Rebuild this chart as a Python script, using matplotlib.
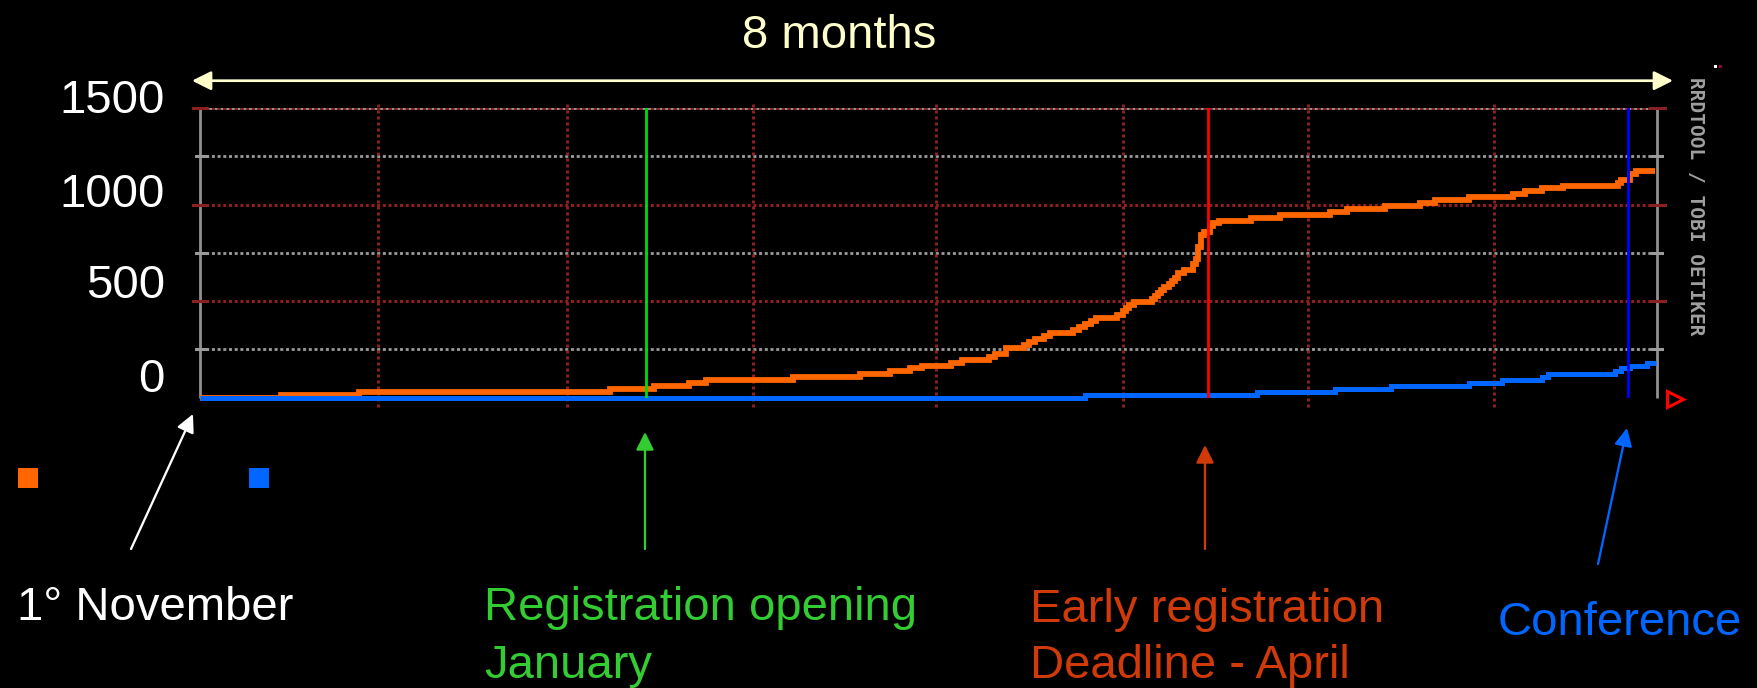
import matplotlib
matplotlib.use("Agg")
import matplotlib.pyplot as plt
from matplotlib.patches import FancyArrowPatch, ArrowStyle, Rectangle
from matplotlib.lines import Line2D

plt.rcParams['font.family'] = ['Liberation Sans', 'DejaVu Sans']
plt.rcParams['lines.scale_dashes'] = False

# ---------------- data (x = days since 1 November) ----------------
orange_days = [0, 13.3, 26.2, 67.5, 74.8, 80.6, 83.4, 97.7, 108.7, 113.7, 117.0, 118.9,
               123.7, 125.5, 130.0, 131.0, 132.8, 135.7, 136.6, 137.6, 139.0, 140.0,
               143.8, 144.8, 145.8, 146.8, 147.6, 151.1, 152.1, 152.6, 153.0, 153.9,
               156.8, 157.3, 157.8, 158.3, 158.8, 159.6, 160.1, 160.6, 161.1, 162.1,
               163.6, 164.1, 164.4, 164.9, 165.4, 166.4, 166.9, 167.9, 173.1, 177.9,
               186.2, 189.0, 195.2, 201.0, 203.5, 209.1, 216.3, 218.3, 221.1, 224.5,
               233.6, 234.1, 235.6, 236.6, 239.7]
orange_vals = [0, 12, 27, 43, 59, 74, 90, 105, 121, 137, 152, 162,
               178, 194, 209, 225, 256, 271, 287, 302, 318, 334,
               349, 365, 380, 396, 412, 427, 448, 463, 479, 495,
               510, 526, 541, 557, 572, 588, 604, 619, 645, 661,
               692, 718, 780, 842, 858, 889, 904, 915, 931, 946,
               962, 977, 993, 1008, 1024, 1040, 1055, 1071, 1086, 1097,
               1112, 1128, 1159, 1174, 1174]

blue_days = [0, 145.8, 174.1, 187.0, 196.2, 209.1, 214.5, 221.1, 222.1, 233.1,
             234.1, 235.6, 238.4, 239.9]
blue_vals = [0, 12, 27, 43, 59, 74, 90, 105, 121, 137, 152, 162, 178, 178]

x_range = [0, 240]
y_range = [0, 1500]
major_values = [500, 1000, 1500]
minor_values = [250, 750, 1250, 1500]
month_grid_days = [29.3, 60.5, 91.1, 121.3, 152.1, 182.5, 213.2]

event_days = [73.5, 166.1, 235.3]
event_colors = ['#00DD00', '#FF0000', '#0000FF']

ytick_labels = ['1500', '1000', '500', '0']

# ---------------- figure ----------------
W, H = 1758, 688
fig = plt.figure(figsize=(W / 100, H / 100), dpi=100, facecolor='black')


def fx(px):
    return px / W


def fy(py):
    return 1 - py / H


ax_l, ax_r, ax_t, ax_b = 200, 1657, 108, 397.5
ax = fig.add_axes([fx(ax_l), fy(ax_b), (ax_r - ax_l) / W, (ax_b - ax_t) / H])
ax.set_facecolor('black')
ax.set_xlim(*x_range)
ax.set_ylim(*y_range)
for s in ax.spines.values():
    s.set_visible(False)
ax.set_xticks([])
ax.set_yticks([])

px2pt = 0.72
grid_red = '#8C2020'
grid_gray = '#9A9A9A'
dots = (0, (3 * px2pt, 2.7 * px2pt))

# horizontal grid
for v in minor_values:
    ax.axhline(v, color=grid_gray, lw=2.8 * px2pt,
               linestyle=(2.8 * px2pt if v == 1500 else 0, (3 * px2pt, 2.7 * px2pt)), zorder=1)
for v in major_values:
    ax.axhline(v, color=grid_red, lw=3.0 * px2pt, linestyle=dots, zorder=1.1)

# vertical grid (extends a little beyond the plot)
px_per_val = (ax_b - ax_t) / (y_range[1] - y_range[0])
ax.vlines(month_grid_days, y_range[0] - 9 / px_per_val, y_range[1] + 7 / px_per_val,
          colors=grid_red, lw=3.0 * px2pt, linestyles=[(0, (3 * px2pt, 3 * px2pt))],
          clip_on=False, zorder=1)

# axes lines (left & right)
for xv in x_range:
    ax.plot([xv, xv], [y_range[0], y_range[1]], color='#8F8F8F', lw=2.8 * px2pt,
            clip_on=False, zorder=2, solid_capstyle='butt')
# ticks on both axes
px_per_day = (ax_r - ax_l) / (x_range[1] - x_range[0])
for v in major_values:
    ax.plot([-7 / px_per_day, 7 / px_per_day], [v, v], color=grid_red, lw=3 * px2pt, clip_on=False, zorder=2)
    ax.plot([x_range[1] - 7 / px_per_day, x_range[1] + 8 / px_per_day], [v, v], color=grid_red, lw=3 * px2pt, clip_on=False, zorder=2)
for v in minor_values[:-1]:
    ax.plot([-4 / px_per_day, 7 / px_per_day], [v, v], color=grid_gray, lw=3 * px2pt, clip_on=False, zorder=2)
    ax.plot([x_range[1] - 5 / px_per_day, x_range[1] + 5 / px_per_day], [v, v], color=grid_gray, lw=3 * px2pt, clip_on=False, zorder=2)

# data series
ax.plot(orange_days, orange_vals, drawstyle='steps-post', color='#FF6600', lw=5.8 * px2pt,
        solid_joinstyle='miter', solid_capstyle='butt', clip_on=False, zorder=3)
ax.plot(blue_days, blue_vals, drawstyle='steps-post', color='#0066FF', lw=5.0 * px2pt,
        solid_joinstyle='miter', solid_capstyle='butt', clip_on=False, zorder=3.5)

# event lines
for d, c in zip(event_days, event_colors):
    ax.axvline(d, color=c, lw=2.8 * px2pt, zorder=4)

# ---------------- slide overlay ----------------
txt_kw = dict(fontsize=34, fontfamily=['Liberation Sans', 'DejaVu Sans'])

# y labels
for lab, base in zip(ytick_labels, [113, 207, 298, 392]):
    fig.text(fx(165), fy(base), lab, color='white', ha='right', va='baseline', **txt_kw)

# 8 months
fig.text(fx(839), fy(48), '8 months', color='#FFFFCC', ha='center', va='baseline', **txt_kw)


def arrow(p0, p1, color, lw=2.0, style='-|>', hl=15, hw=7.5):
    st = ArrowStyle(style, head_length=hl * px2pt, head_width=hw * px2pt)
    a = FancyArrowPatch((fx(p0[0]), fy(p0[1])), (fx(p1[0]), fy(p1[1])),
                        transform=fig.transFigure, arrowstyle=st, mutation_scale=1,
                        color=color, lw=lw * px2pt, shrinkA=0, shrinkB=0)
    fig.add_artist(a)


arrow((192, 80.7), (1673, 80.7), '#FFFFCC', lw=2.7, style='<|-|>', hl=16, hw=8)

# annotation arrows
arrow((131, 549), (193, 414), 'white', lw=2.3)
arrow((645, 549), (645, 432), '#33CC33', lw=2.3)
arrow((1205, 549), (1205, 445), '#D03A08', lw=2.3)
arrow((1598, 564), (1627, 428), '#0066FF', lw=2.3)

# annotation texts
fig.text(fx(17), fy(620), '1° November', color='white', ha='left', va='baseline', **txt_kw)
fig.text(fx(484), fy(620), 'Registration opening', color='#33CC33', ha='left', va='baseline', **txt_kw)
fig.text(fx(484), fy(678), 'January', color='#33CC33', ha='left', va='baseline', **txt_kw)
fig.text(fx(1030), fy(622), 'Early registration', color='#D03A08', ha='left', va='baseline', **txt_kw)
fig.text(fx(1030), fy(678), 'Deadline - April', color='#D03A08', ha='left', va='baseline', **txt_kw)
fig.text(fx(1498), fy(635), 'Conference', color='#0066FF', ha='left', va='baseline', **txt_kw)

# legend squares
for x0, c in [(18, '#FF6600'), (249, '#0066FF')]:
    fig.add_artist(Rectangle((fx(x0), fy(488)), 20 / W, 20 / H, transform=fig.transFigure,
                             facecolor=c, edgecolor='none'))

# rrdtool watermark
fig.text(fx(1696), fy(206), 'RRDTOOL / TOBI OETIKER', color='#A0A0A0', rotation=270,
         ha='center', va='center', fontsize=14, fontfamily='DejaVu Sans Mono', fontweight='bold')

# rrdtool axis arrow marker and corner dots
fig.add_artist(Line2D([fx(1675)], [fy(399)], marker='>', markersize=11, markerfacecolor='none',
                      markeredgecolor='#FF0000', markeredgewidth=2.2, transform=fig.transFigure))
fig.add_artist(Rectangle((fx(1714), fy(67.5)), 3 / W, 3 / H, transform=fig.transFigure,
                         facecolor='white', edgecolor='none'))
fig.add_artist(Rectangle((fx(1719), fy(67.5)), 3 / W, 3 / H, transform=fig.transFigure,
                         facecolor='#990044', edgecolor='none'))

fig.savefig('out.png', dpi=100, facecolor='black')
